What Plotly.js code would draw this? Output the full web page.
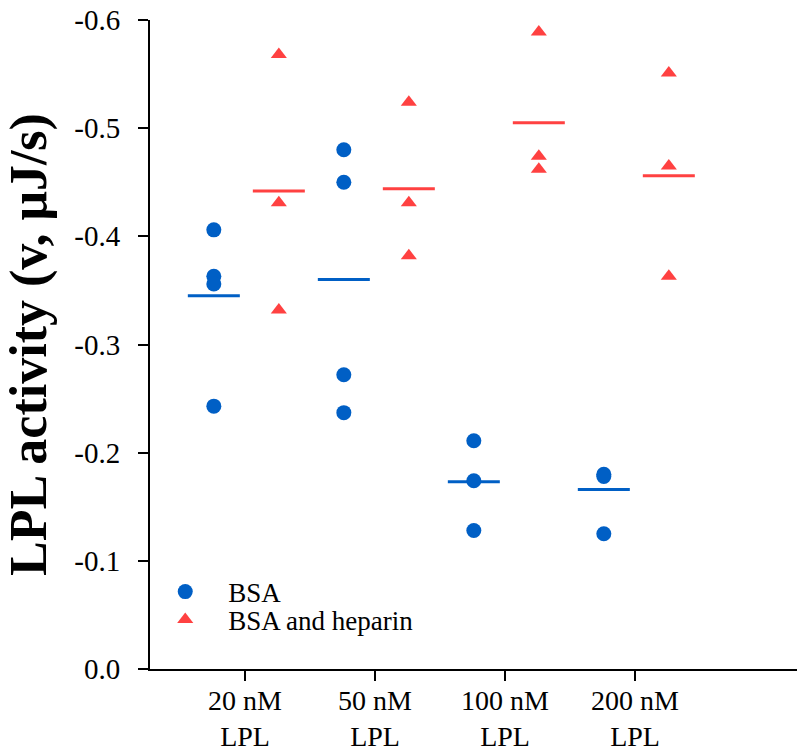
<!DOCTYPE html>
<html>
<head>
<meta charset="utf-8">
<script src="https://cdn.plot.ly/plotly-3.0.1.min.js"></script>
<style>
  html, body { margin: 0; padding: 0; background: #fff; }
  #chart { width: 801px; height: 753px; }
</style>
</head>
<body>
<div id="chart"></div>
<script>
// LPL concentrations on the x axis
const categories = ["20 nM<br>LPL", "50 nM<br>LPL", "100 nM<br>LPL", "200 nM<br>LPL"];

// Individual LPL activity measurements (v, µJ/s) per concentration
const bsaValues = [
  [-0.406, -0.363, -0.356, -0.243],
  [-0.480, -0.450, -0.272, -0.237],
  [-0.211, -0.174, -0.128],
  [-0.180, -0.178, -0.125]
];
const heparinValues = [
  [-0.568, -0.431, -0.332],
  [-0.524, -0.431, -0.382],
  [-0.589, -0.474, -0.462],
  [-0.551, -0.465, -0.363]
];

// Group means shown as short horizontal bars
const bsaMeans = [-0.345, -0.360, -0.173, -0.166];
const heparinMeans = [-0.442, -0.444, -0.505, -0.456];

const yTicks = [0, -0.1, -0.2, -0.3, -0.4, -0.5, -0.6];
const yTickText = ["0.0", "-0.1", "-0.2", "-0.3", "-0.4", "-0.5", "-0.6"];

const BLUE = "#005fc5";
const RED = "#ff4141";
const FONT = "Liberation Serif, Times New Roman, serif";

const bsaOffset = -0.24;
const hepOffset = 0.26;
const halfBar = 0.2;

function pointsTrace(groups, offset) {
  const x = [], y = [];
  groups.forEach((vals, i) => vals.forEach(v => { x.push(i + offset); y.push(v); }));
  return { x, y };
}

function meanSegments(means, offset) {
  const x = [], y = [];
  means.forEach((m, i) => {
    x.push(i + offset - halfBar, i + offset + halfBar, null);
    y.push(m, m, null);
  });
  return { x, y };
}

const bsaPts = pointsTrace(bsaValues, bsaOffset);
const hepPts = pointsTrace(heparinValues, hepOffset);
const bsaBars = meanSegments(bsaMeans, bsaOffset);
const hepBars = meanSegments(heparinMeans, hepOffset);

const data = [
  {
    x: bsaBars.x, y: bsaBars.y, mode: "lines", type: "scatter",
    line: { color: BLUE, width: 3 }, showlegend: false, hoverinfo: "skip"
  },
  {
    x: hepBars.x, y: hepBars.y, mode: "lines", type: "scatter",
    line: { color: RED, width: 3 }, showlegend: false, hoverinfo: "skip"
  },
  {
    x: bsaPts.x, y: bsaPts.y, mode: "markers", type: "scatter", name: "BSA",
    marker: { symbol: "circle", size: 15, color: BLUE }, legend: "legend"
  },
  {
    x: hepPts.x, y: hepPts.y, mode: "markers", type: "scatter", name: "BSA and heparin",
    marker: { symbol: "triangle-up", size: 14, color: RED }, legend: "legend2"
  }
];

const legendBase = {
  xanchor: "left", yanchor: "middle",
  bgcolor: "rgba(0,0,0,0)",
  font: { family: FONT, size: 27, color: "#000" },
  itemwidth: 76
};

const layout = {
  width: 801,
  height: 753,
  margin: { l: 150, r: 4, t: 20, b: 84 },
  paper_bgcolor: "#fff",
  plot_bgcolor: "#fff",
  font: { family: FONT, color: "#000", size: 29 },
  showlegend: true,
  legend: Object.assign({ x: -0.012, y: 0.1186 }, legendBase),
  legend2: Object.assign({ x: -0.012, y: 0.0755 }, legendBase),
  xaxis: {
    range: [-0.731, 4.246],
    tickmode: "array",
    tickvals: [0, 1, 2, 3],
    ticktext: categories,
    ticks: "outside", ticklen: 10, tickwidth: 2, tickcolor: "#000",
    showline: true, linewidth: 2, linecolor: "#000",
    showgrid: false, zeroline: false,
    tickfont: { family: FONT, size: 28, color: "#000" },
    ticklabelstandoff: -5,
    fixedrange: true
  },
  yaxis: {
    range: [0, -0.6],
    tickmode: "array",
    tickvals: yTicks,
    ticktext: yTickText,
    ticks: "outside", ticklen: 10, tickwidth: 2, tickcolor: "#000",
    showline: true, linewidth: 2, linecolor: "#000",
    showgrid: false, zeroline: false,
    tickfont: { family: FONT, size: 29, color: "#000" },
    ticklabelstandoff: 12,
    title: {
      text: "<b>LPL activity (v, μJ/s)</b>",
      font: { family: FONT, size: 52, color: "#000" },
      standoff: 12
    },
    fixedrange: true
  },
  hovermode: false
};

Plotly.newPlot("chart", data, layout, { displayModeBar: false, staticPlot: true });
</script>
</body>
</html>
